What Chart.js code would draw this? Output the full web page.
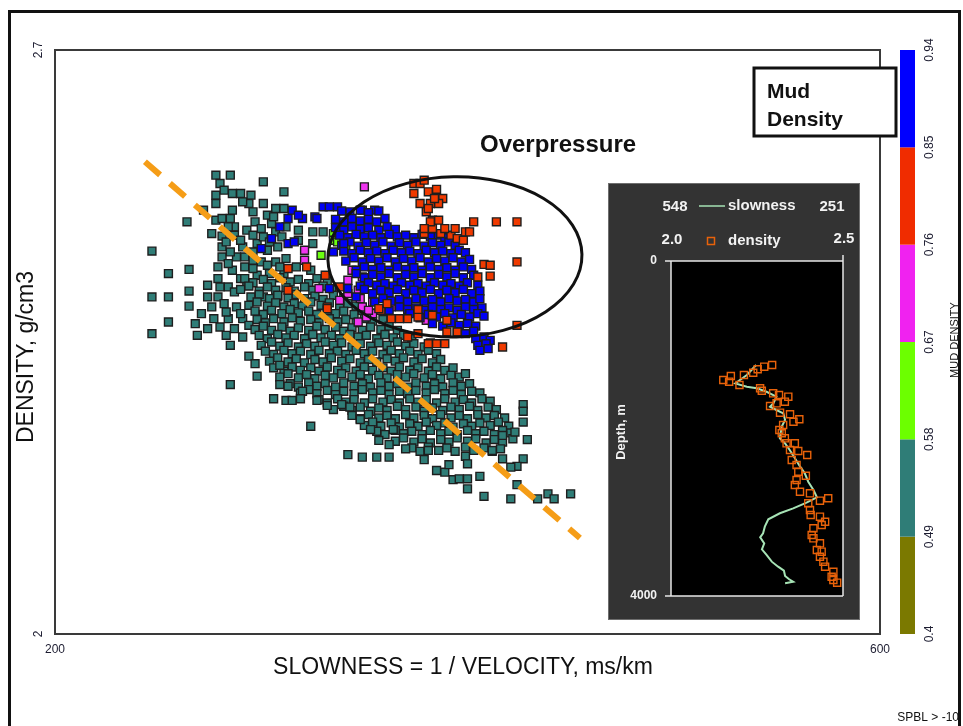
<!DOCTYPE html>
<html lang="en">
<head>
<meta charset="UTF-8">
<title>Density vs slowness</title>
<style>
  html, body { margin: 0; padding: 0; background: #fff; }
  #wrap { position: relative; width: 963px; height: 726px; overflow: hidden; }
  #main { position: absolute; left: 0; top: 0; }
  #inset { position: absolute; left: 608px; top: 183px; }
</style>
<script src="https://cdn.jsdelivr.net/npm/chart.js"></script>
</head>
<body>
<div id="wrap">
  <canvas id="main" width="963" height="726"></canvas>
  <canvas id="inset" width="252" height="437"></canvas>
</div>

<script>
// ---- axis ticks ----
const slownessTicks = [200, 600];
const densityTicks = [2, 2.7];
const densityTickLabels = ['2', '2.7'];

// ---- mud density classes (colour bar) ----
const mudBreaks = [0.4, 0.49, 0.58, 0.67, 0.76, 0.85, 0.94];
const mudColors = ['#7b7900', '#2f7d77', '#6cff00', '#f022f0', '#f02c00', '#0000ff'];

// ---- compaction trend ----
const trendSlowness = [243.6, 454.5];
const trendDensity = [2.566, 2.115];

// ---- overpressure zone (slowness, density) ----
const zoneCenter = [393.9, 2.452];
const zoneRadius = [61.6, 0.096];

// ---- samples: [slowness ms/km, density g/cm3] by mud density class ----
const mud049 = [
  [278,2.550],[285,2.550],[280,2.540],[278,2.526],[278,2.516],[286,2.528],[290,2.528],[295,2.526],[294,2.516],[301,2.516],
  [301,2.542],[311,2.530],[307,2.510],[311,2.510],[303,2.502],[278,2.496],[281,2.498],[285,2.498],[287,2.488],[293,2.484],
  [264,2.494],[276,2.480],[281,2.477],[287,2.478],[291,2.464],[298,2.468],[301,2.476],[307,2.482],[312,2.488],[318,2.484],
  [325,2.482],[330,2.482],[325,2.468],[318,2.472],[281,2.464],[281,2.452],[288,2.452],[303,2.460],[308,2.464],[312,2.450],
  [317,2.440],[324,2.436],[292,2.440],[286,2.436],[298,2.430],[304,2.432],[311,2.432],[247,2.459],[255,2.432],[265,2.437],
  [247,2.404],[255,2.404],[265,2.411],[265,2.393],[255,2.374],[247,2.360],[269,2.358],[279,2.404],[277,2.378],[284,2.378],
  [291,2.378],[283,2.358],[291,2.356],[285,2.346],[288,2.392],[301,2.404],[308,2.404],[284,2.444],[296,2.448],[290,2.426],
  [279,2.426],[284,2.416],[293,2.420],[274,2.418],[297,2.494],[305,2.492],[310,2.476],[296,2.458],
  [283,2.470],[290,2.472],[296,2.478],[304,2.470],[285,2.458],[292,2.452],[300,2.446],[307,2.446],[279,2.440],[296,2.438],
  [303,2.442],[309,2.440],[280,2.416],[287,2.410],[274,2.404],[282,2.396],[271,2.384],[276,2.392],[283,2.386],[290,2.384],
  [268,2.372],[274,2.366],[280,2.368],[287,2.366],[294,2.370],[282,2.532],[291,2.518],[286,2.508],[296,2.506],[272,2.508],
  [284,2.488],[300,2.486],[306,2.500],
  [292,2.426],[296,2.421],[301,2.425],[305,2.420],[309,2.427],[314,2.422],[318,2.425],[323,2.420],[327,2.426],[332,2.423],
  [290,2.413],[294,2.417],[299,2.411],[303,2.416],[307,2.412],[312,2.415],[316,2.411],[321,2.416],[325,2.412],[330,2.417],[335,2.413],
  [295,2.404],[299,2.407],[304,2.402],[308,2.406],[313,2.403],[317,2.407],[321,2.402],[326,2.405],[330,2.401],[335,2.406],[340,2.403],
  [294,2.394],[298,2.398],[303,2.393],[307,2.397],[311,2.392],[316,2.396],[320,2.393],[324,2.398],[329,2.394],[333,2.397],[338,2.392],[342,2.396],[346,2.393],
  [297,2.387],[301,2.383],[305,2.388],[310,2.384],[314,2.389],[318,2.385],[323,2.387],[327,2.383],[332,2.388],[336,2.384],[340,2.387],[345,2.383],[349,2.388],[353,2.385],
  [298,2.377],[302,2.373],[306,2.378],[311,2.374],[315,2.379],[319,2.375],[324,2.377],[328,2.373],[333,2.378],[337,2.374],[341,2.377],[346,2.373],[350,2.378],[354,2.375],[359,2.377],
  [297,2.365],[301,2.369],[305,2.364],[310,2.368],[314,2.363],[318,2.367],[323,2.364],[327,2.369],[331,2.365],[336,2.368],[340,2.363],[344,2.367],[349,2.364],[353,2.368],[358,2.365],[362,2.369],[366,2.364],
  [299,2.358],[303,2.354],[308,2.359],[312,2.355],[316,2.358],[321,2.354],[325,2.359],[329,2.355],[334,2.358],[338,2.354],[343,2.359],[347,2.356],[351,2.358],[356,2.354],[360,2.359],[364,2.355],[369,2.358],[373,2.354],
  [300,2.346],[305,2.350],[309,2.345],[313,2.349],[318,2.344],[322,2.348],[326,2.345],[331,2.350],[335,2.346],[339,2.349],[344,2.344],[348,2.348],[353,2.345],[357,2.349],[361,2.346],[366,2.350],[370,2.345],[374,2.348],[379,2.344],[382,2.349],
  [302,2.339],[306,2.335],[311,2.340],[315,2.336],[319,2.339],[324,2.335],[328,2.340],[333,2.336],[337,2.339],[341,2.335],[346,2.340],[350,2.336],[354,2.339],[359,2.335],[363,2.340],[367,2.336],[372,2.339],[376,2.335],[381,2.340],[385,2.336],
  [304,2.327],[308,2.331],[313,2.326],[317,2.330],[321,2.325],[326,2.329],[330,2.326],[334,2.331],[339,2.327],[343,2.330],[348,2.325],[352,2.329],[356,2.326],[361,2.330],[365,2.327],[369,2.331],[374,2.326],[378,2.330],[383,2.325],[387,2.329],
  [306,2.319],[311,2.315],[315,2.320],[319,2.316],[324,2.319],[328,2.315],[332,2.320],[337,2.316],[341,2.319],[346,2.315],[350,2.320],[354,2.316],[359,2.319],[363,2.315],[367,2.320],[372,2.316],[376,2.319],[381,2.315],[385,2.320],[389,2.316],[393,2.319],
  [309,2.308],[313,2.312],[318,2.307],[322,2.311],[326,2.306],[331,2.310],[335,2.307],[339,2.312],[344,2.308],[348,2.311],[352,2.306],[357,2.310],[361,2.307],[366,2.311],[370,2.308],[374,2.312],[379,2.307],[383,2.311],[387,2.306],[392,2.310],[396,2.308],[399,2.312],
  [314,2.300],[318,2.296],[323,2.301],[327,2.297],[331,2.300],[336,2.296],[340,2.301],[345,2.297],[349,2.300],[353,2.296],[358,2.301],[362,2.297],[366,2.300],[371,2.296],[375,2.301],[380,2.297],[384,2.300],[388,2.296],[393,2.301],[397,2.297],[401,2.300],
  [319,2.289],[323,2.293],[327,2.288],[332,2.292],[336,2.287],[340,2.291],[345,2.288],[349,2.293],[354,2.289],[358,2.292],[362,2.287],[367,2.291],[371,2.288],[375,2.292],[380,2.289],[384,2.293],[389,2.288],[393,2.292],[397,2.287],[402,2.291],[406,2.289],
  [328,2.281],[332,2.277],[337,2.282],[341,2.278],[345,2.281],[350,2.277],[354,2.282],[359,2.278],[363,2.281],[367,2.277],[372,2.282],[376,2.278],[380,2.281],[385,2.277],[389,2.282],[394,2.278],[398,2.281],[402,2.277],[407,2.282],[411,2.279],
  [335,2.269],[340,2.273],[344,2.268],[348,2.272],[353,2.267],[357,2.271],[361,2.268],[366,2.273],[370,2.269],[375,2.272],[379,2.267],[383,2.271],[388,2.268],[392,2.272],[396,2.269],[401,2.273],[405,2.268],[410,2.272],[414,2.269],
  [344,2.262],[348,2.258],[352,2.263],[357,2.259],[361,2.262],[365,2.258],[370,2.263],[374,2.259],[379,2.262],[383,2.258],[387,2.263],[392,2.259],[396,2.262],[400,2.258],[405,2.263],[409,2.259],[413,2.262],[418,2.259],
  [350,2.250],[354,2.254],[358,2.249],[363,2.253],[367,2.248],[372,2.252],[376,2.249],[380,2.254],[385,2.250],[389,2.253],[393,2.248],[398,2.252],[402,2.249],[406,2.253],[411,2.250],[415,2.254],[420,2.249],
  [356,2.243],[360,2.239],[365,2.244],[369,2.240],[373,2.243],[378,2.239],[382,2.244],[387,2.240],[391,2.243],[395,2.239],[400,2.244],[404,2.240],[408,2.243],[413,2.239],[417,2.244],[421,2.241],
  [365,2.231],[369,2.235],[374,2.230],[378,2.234],[382,2.229],[387,2.233],[391,2.230],[395,2.235],[400,2.231],[404,2.234],[409,2.229],[413,2.233],[417,2.230],[422,2.234],
  [373,2.223],[377,2.219],[381,2.224],[386,2.220],[390,2.223],[394,2.219],[399,2.224],[403,2.220],[408,2.223],[412,2.219],[416,2.222],
  [294,2.333],[297,2.324],[298,2.309],[285,2.299],[309,2.322],[309,2.299],[313,2.297],[320,2.291],[306,2.282],[312,2.280],
  [315,2.280],[319,2.282],[327,2.280],[332,2.274],[339,2.275],[343,2.272],[324,2.249],[348,2.257],[353,2.245],[357,2.232],
  [362,2.227],[364,2.245],[342,2.215],[349,2.212],[356,2.212],[362,2.212],[427,2.275],[427,2.267],[427,2.254],[429,2.233],
  [423,2.242],[417,2.238],[417,2.210],[427,2.210],[424,2.201],[421,2.200],[406,2.189],[400,2.186],[400,2.174],[408,2.165],
  [421,2.162],[424,2.179],[434,2.162],[439,2.168],[442,2.162],[450,2.168],[385,2.196],[389,2.194],[393,2.185],[396,2.186],
  [391,2.203],[399,2.213],[400,2.204],[370,2.222],[379,2.209],[381,2.220],[412,2.220]
];

const mud094 = [
  [330,2.512],[333,2.512],[337,2.512],[343,2.506],[349,2.508],[355,2.508],[339,2.507],[348,2.508],[352,2.505],[357,2.507],
  [326,2.500],[336,2.497],[340,2.494],[344,2.498],[348,2.495],[352,2.497],[356,2.494],[360,2.498],
  [336,2.487],[340,2.484],[344,2.488],[348,2.485],[352,2.487],[357,2.484],[361,2.488],[365,2.485],
  [338,2.478],[342,2.475],[346,2.479],[350,2.476],[354,2.478],[358,2.475],[362,2.479],[366,2.476],[370,2.478],[374,2.475],[378,2.479],[382,2.476],[386,2.478],[389,2.475],
  [339,2.466],[343,2.470],[347,2.465],[351,2.469],[355,2.466],[359,2.470],[363,2.465],[367,2.469],[371,2.466],[375,2.470],[379,2.465],[383,2.469],[387,2.466],[391,2.470],[394,2.466],
  [340,2.459],[344,2.456],[348,2.460],[352,2.457],[356,2.459],[360,2.456],[364,2.460],[368,2.457],[372,2.459],[376,2.456],[380,2.460],[384,2.457],[388,2.459],[392,2.456],[396,2.460],[399,2.457],
  [341,2.447],[345,2.451],[349,2.446],[353,2.450],[357,2.447],[361,2.451],[365,2.446],[369,2.450],[373,2.447],[377,2.451],[381,2.446],[385,2.450],[389,2.447],[393,2.451],[397,2.446],[401,2.449],
  [346,2.436],[350,2.440],[354,2.437],[358,2.439],[362,2.436],[366,2.440],[370,2.437],[374,2.439],[378,2.436],[382,2.440],[386,2.437],[390,2.439],[394,2.436],[398,2.440],[402,2.437],
  [346,2.432],[350,2.427],[354,2.431],[358,2.428],[362,2.432],[366,2.427],[370,2.431],[374,2.428],[378,2.432],[382,2.427],[386,2.431],[390,2.428],[394,2.432],[398,2.427],[403,2.430],
  [348,2.417],[352,2.421],[356,2.418],[360,2.420],[364,2.417],[368,2.421],[372,2.418],[376,2.420],[380,2.417],[384,2.421],[388,2.418],[392,2.420],[396,2.417],[400,2.421],[405,2.418],
  [350,2.413],[354,2.408],[358,2.412],[362,2.409],[366,2.413],[370,2.408],[374,2.412],[378,2.409],[382,2.413],[386,2.408],[390,2.412],[394,2.409],[398,2.413],[402,2.408],[406,2.411],
  [355,2.398],[359,2.402],[363,2.399],[367,2.401],[371,2.398],[375,2.402],[379,2.399],[383,2.401],[387,2.398],[391,2.402],[395,2.399],[399,2.401],[403,2.398],[406,2.402],
  [362,2.388],[367,2.392],[371,2.389],[375,2.391],[379,2.388],[383,2.392],[387,2.389],[391,2.391],[395,2.388],[399,2.392],[403,2.389],[407,2.391],
  [372,2.384],[377,2.379],[381,2.383],[385,2.380],[389,2.384],[393,2.379],[397,2.383],[401,2.380],[405,2.384],[408,2.381],
  [383,2.372],[388,2.369],[392,2.373],[396,2.370],[400,2.372],[404,2.369],[395,2.362],[399,2.360],[403,2.363],
  [404,2.354],[408,2.356],[411,2.352],[405,2.346],[409,2.348],[406,2.340],[410,2.342],
  [300,2.462],[305,2.474],[309,2.488],[313,2.498],[315,2.508],[320,2.498],[327,2.498],[313,2.468],[316,2.470],[335,2.458],
  [340,2.468],[333,2.414],[342,2.414],[346,2.404],[318,2.502]
];

const mud085 = [
  [374,2.540],[377,2.540],[374,2.528],[381,2.530],[385,2.533],[388,2.522],[386,2.516],[382,2.516],[377,2.516],[380,2.506],
  [383,2.496],[386,2.496],[379,2.480],[383,2.486],[387,2.480],[392,2.478],[395,2.474],[399,2.482],[398,2.472],[403,2.494],
  [414,2.494],[424,2.494],[408,2.443],[411,2.442],[411,2.429],[405,2.428],[424,2.446],[424,2.370],[417,2.344],[395,2.362],
  [390,2.362],[385,2.348],[381,2.348],[389,2.348],[390,2.376],[383,2.382],[376,2.380],[371,2.378],[367,2.378],[363,2.378],
  [358,2.388],[361,2.396],[376,2.389],[322,2.440],[331,2.430],[338,2.416],[332,2.392],[313,2.438],[313,2.412],[332,2.390],
  [357,2.390],[379,2.544],[384,2.522],[381,2.510],[382,2.494],[379,2.486],[389,2.486],[394,2.486],[401,2.482],[376,2.360],
  [371,2.356]
];

const mud076 = [
  [350,2.536],[321,2.460],[321,2.448],[328,2.414],[342,2.424],[342,2.408],[347,2.412],[348,2.402],[349,2.392],[354,2.398],
  [354,2.384],[351,2.380],[347,2.374],[380,2.394],[380,2.376],[363,2.392],[352,2.388],[349,2.428],[338,2.400],[344,2.436]
];

const mud067 = [[329,2.454],[335,2.480],[335,2.472],[341,2.466],[337,2.470]];

// ---- well log inset: [density g/cm3, depth m] and [slowness ms/km, depth m] ----
const logDensity = [
  [2.294,1242],[2.271,1262],[2.252,1293],[2.239,1334],[2.212,1361],[2.174,1373],[2.152,1421],[2.169,1441],[2.199,1481],[2.259,1520],
  [2.264,1549],[2.297,1580],[2.314,1600],[2.341,1620],[2.331,1680],[2.288,1731],[2.307,1699],[2.317,1811],[2.346,1830],[2.373,1890],
  [2.356,1919],[2.326,1958],[2.315,2018],[2.322,2057],[2.331,2117],[2.336,2177],[2.360,2177],[2.346,2257],[2.370,2269],[2.396,2316],
  [2.351,2376],[2.365,2436],[2.370,2516],[2.392,2564],[2.365,2615],[2.360,2675],[2.375,2755],[2.404,2774],[2.433,2862],[2.457,2833],
  [2.399,2893],[2.404,2973],[2.406,3033],[2.433,3053],[2.448,3113],[2.438,3152],[2.414,3192],[2.409,3272],[2.414,3311],[2.433,3371],
  [2.424,3451],[2.438,3471],[2.433,3531],[2.443,3590],[2.448,3650],[2.472,3710],[2.467,3770],[2.472,3809],[2.483,3841]
];
const logSlowness = [
  [401,1242],[409,1301],[417,1361],[429,1421],[437,1461],[417,1501],[400,1520],[383,1561],[366,1620],[371,1699],
  [377,1740],[366,1779],[354,1819],[351,1898],[357,1979],[360,2117],[351,2177],[343,2257],[334,2356],[325,2456],
  [317,2535],[311,2635],[302,2734],[296,2822],[314,2886],[337,2953],[360,3012],[380,3084],[386,3172],[389,3251],
  [394,3299],[387,3371],[391,3443],[383,3510],[374,3590],[363,3650],[353,3698],[351,3761],[344,3800],[337,3829],[351,3848]
];
const logDepthRange = [0, 4000];
const logDensityRange = [2.0, 2.5];
const logSlownessRange = [548, 251];

const FONT = '"Liberation Sans", Arial, sans-serif';
const toXY = pts => pts.map(([x, y]) => ({ x, y }));

function vText(ctx, txt, x, y, font, color) {
  ctx.save();
  ctx.translate(x, y);
  ctx.rotate(-Math.PI / 2);
  ctx.font = font;
  ctx.fillStyle = color;
  ctx.textAlign = 'center';
  ctx.textBaseline = 'middle';
  ctx.fillText(txt, 0, 0);
  ctx.restore();
}

function squares(pts, color, order) {
  return {
    type: 'scatter',
    data: toXY(pts),
    order,
    pointStyle: 'rect',
    pointRadius: 5.6,
    pointBackgroundColor: color,
    pointBorderColor: '#1e1e1e',
    pointBorderWidth: 1.4,
    pointHoverRadius: 5.6
  };
}

const pageDecor = {
  id: 'pageDecor',
  beforeDraw(chart) {
    const ctx = chart.ctx;
    ctx.save();
    ctx.fillStyle = '#fff';
    ctx.fillRect(0, 0, chart.width, chart.height);
    ctx.strokeStyle = '#111';
    ctx.lineWidth = 3;
    ctx.strokeRect(9.5, 11.5, 950, 760);
    ctx.restore();
  },
  afterDatasetsDraw(chart) {
    const ctx = chart.ctx;
    const xs = chart.scales.x, ys = chart.scales.y;
    const cx = xs.getPixelForValue(zoneCenter[0]);
    const cy = ys.getPixelForValue(zoneCenter[1]);
    const rx = Math.abs(xs.getPixelForValue(zoneCenter[0] + zoneRadius[0]) - cx);
    const ry = Math.abs(ys.getPixelForValue(zoneCenter[1] + zoneRadius[1]) - cy);
    ctx.save();
    ctx.strokeStyle = '#111';
    ctx.lineWidth = 3;
    ctx.beginPath();
    ctx.ellipse(cx, cy, rx, ry, -0.02, 0, Math.PI * 2);
    ctx.stroke();
    ctx.restore();
  },
  afterDraw(chart) {
    const ctx = chart.ctx;
    const a = chart.chartArea;
    const xs = chart.scales.x, ys = chart.scales.y;
    ctx.save();

    // plot frame
    ctx.strokeStyle = '#3a3a3a';
    ctx.lineWidth = 2;
    ctx.strokeRect(a.left, a.top, a.right - a.left, a.bottom - a.top);

    // tick labels
    ctx.fillStyle = '#1c1c30';
    ctx.font = '12px ' + FONT;
    ctx.textAlign = 'center';
    ctx.textBaseline = 'middle';
    slownessTicks.forEach(v => ctx.fillText(String(v), xs.getPixelForValue(v), 650));
    densityTicks.forEach((v, i) => vText(ctx, densityTickLabels[i], 39, ys.getPixelForValue(v), '12px ' + FONT, '#1c1c30'));

    // axis titles
    ctx.fillStyle = '#111';
    ctx.font = '23px ' + FONT;
    ctx.fillText('SLOWNESS = 1 / VELOCITY, ms/km', 463, 668);
    vText(ctx, 'DENSITY, g/cm3', 27, 357, '23px ' + FONT, '#111');

    // annotation
    ctx.font = 'bold 24px ' + FONT;
    ctx.textAlign = 'left';
    ctx.fillText('Overpressure', 480, 145);

    // colour bar
    const barX = 900, barW = 15;
    const span = mudBreaks[mudBreaks.length - 1] - mudBreaks[0];
    const yOf = v => a.bottom - (v - mudBreaks[0]) / span * (a.bottom - a.top);
    for (let i = 0; i < mudColors.length; i++) {
      const y0 = yOf(mudBreaks[i + 1]), y1 = yOf(mudBreaks[i]);
      ctx.fillStyle = mudColors[i];
      ctx.fillRect(barX, y0, barW, y1 - y0);
    }
    mudBreaks.forEach(v => vText(ctx, String(v), 930, yOf(v), '12px ' + FONT, '#1c1c30'));
    vText(ctx, 'MUD DENSITY', 955, 340, '11px ' + FONT, '#111');

    // legend title box
    ctx.fillStyle = '#fff';
    ctx.fillRect(754, 68, 142, 68);
    ctx.strokeStyle = '#111';
    ctx.lineWidth = 3;
    ctx.strokeRect(754, 68, 142, 68);
    ctx.fillStyle = '#111';
    ctx.font = 'bold 21px ' + FONT;
    ctx.textBaseline = 'alphabetic';
    ctx.fillText('Mud', 767, 98);
    ctx.fillText('Density', 767, 126);

    ctx.font = '12px ' + FONT;
    ctx.textAlign = 'right';
    ctx.textBaseline = 'middle';
    ctx.fillText('SPBL > -10', 959, 718);
    ctx.restore();
  }
};

new Chart(document.getElementById('main'), {
  data: {
    datasets: [
      {
        type: 'line',
        data: trendSlowness.map((x, i) => ({ x, y: trendDensity[i] })),
        order: 0,
        borderColor: '#f59d17',
        borderWidth: 6,
        borderDash: [20, 13],
        pointRadius: 0,
        fill: false
      },
      squares(mud085, '#f03a00', 1),
      squares(mud094, '#0000f4', 2),
      squares(mud067, '#6cff10', 3),
      squares(mud076, '#f036f0', 4),
      squares(mud049, '#2f7d77', 5)
    ]
  },
  options: {
    responsive: false,
    animation: false,
    layout: { padding: { left: 55, top: 50, right: 83, bottom: 92 } },
    plugins: { legend: { display: false }, tooltip: { enabled: false } },
    scales: {
      x: { type: 'linear', min: slownessTicks[0], max: slownessTicks[1], display: false },
      y: { type: 'linear', min: densityTicks[0], max: densityTicks[1], display: false }
    }
  },
  plugins: [pageDecor]
});

// ---- well log inset ----
const insetDecor = {
  id: 'insetDecor',
  beforeDraw(chart) {
    const ctx = chart.ctx;
    const a = chart.chartArea;
    ctx.save();
    ctx.fillStyle = '#333';
    ctx.fillRect(0, 0, chart.width, chart.height);
    ctx.strokeStyle = '#6e6e6e';
    ctx.lineWidth = 1;
    ctx.strokeRect(0.5, 0.5, chart.width - 1, chart.height - 1);
    ctx.fillStyle = '#000';
    ctx.fillRect(a.left, a.top, a.right - a.left, a.bottom - a.top);
    ctx.restore();
  },
  afterDraw(chart) {
    const ctx = chart.ctx;
    const a = chart.chartArea;
    const ys = chart.scales.y;
    const y0 = ys.getPixelForValue(logDepthRange[0]);
    const y1 = ys.getPixelForValue(logDepthRange[1]);
    ctx.save();
    ctx.strokeStyle = '#e6e6e6';
    ctx.lineWidth = 1.5;
    ctx.beginPath();
    ctx.moveTo(a.left - 6, y0); ctx.lineTo(a.right, y0);
    ctx.moveTo(a.left - 6, y1); ctx.lineTo(a.right, y1);
    ctx.moveTo(a.left, y0); ctx.lineTo(a.left, y1);
    ctx.moveTo(a.right, y0 - 6); ctx.lineTo(a.right, y1);
    ctx.stroke();

    ctx.fillStyle = '#f2f2f2';
    ctx.font = 'bold 12px ' + FONT;
    ctx.textAlign = 'right';
    ctx.textBaseline = 'middle';
    ctx.fillText(String(logDepthRange[0]), 49, y0);
    ctx.fillText(String(logDepthRange[1]), 49, y1);
    vText(ctx, 'Depth, m', 13, 249, 'bold 13px ' + FONT, '#f2f2f2');

    ctx.font = 'bold 15px ' + FONT;
    ctx.textAlign = 'center';
    ctx.fillText(String(logSlownessRange[0]), 67, 24);
    ctx.fillText(String(logSlownessRange[1]), 224, 24);
    ctx.fillText(logDensityRange[0].toFixed(1), 64, 57);
    ctx.fillText(logDensityRange[1].toFixed(1), 236, 56);
    ctx.textAlign = 'left';
    ctx.fillText('slowness', 120, 23);
    ctx.fillText('density', 120, 58);

    ctx.strokeStyle = '#a6e3b5';
    ctx.lineWidth = 1.5;
    ctx.beginPath();
    ctx.moveTo(91, 23); ctx.lineTo(117, 23);
    ctx.stroke();
    ctx.strokeStyle = '#e8620a';
    ctx.strokeRect(99.5, 54.5, 7, 7);
    ctx.restore();
  }
};

new Chart(document.getElementById('inset'), {
  data: {
    datasets: [
      {
        type: 'scatter',
        data: logDensity.map(([x, y]) => ({ x, y })),
        xAxisID: 'x',
        order: 0,
        pointStyle: 'rect',
        pointRadius: 5,
        pointBackgroundColor: 'rgba(0,0,0,0)',
        pointBorderColor: '#e8620a',
        pointBorderWidth: 1.4
      },
      {
        type: 'scatter',
        data: logSlowness.map(([x, y]) => ({ x, y })),
        xAxisID: 'xs',
        order: 1,
        showLine: true,
        borderColor: '#a6e3b5',
        borderWidth: 2,
        pointRadius: 0
      }
    ]
  },
  options: {
    responsive: false,
    animation: false,
    layout: { padding: { left: 63, top: 78, right: 17, bottom: 24 } },
    plugins: { legend: { display: false }, tooltip: { enabled: false } },
    scales: {
      x: { type: 'linear', min: logDensityRange[0], max: logDensityRange[1], display: false },
      xs: { type: 'linear', min: logSlownessRange[1], max: logSlownessRange[0], reverse: true, display: false },
      y: { type: 'linear', min: logDepthRange[0], max: logDepthRange[1], reverse: true, display: false }
    }
  },
  plugins: [insetDecor]
});
</script>
</body>
</html>
